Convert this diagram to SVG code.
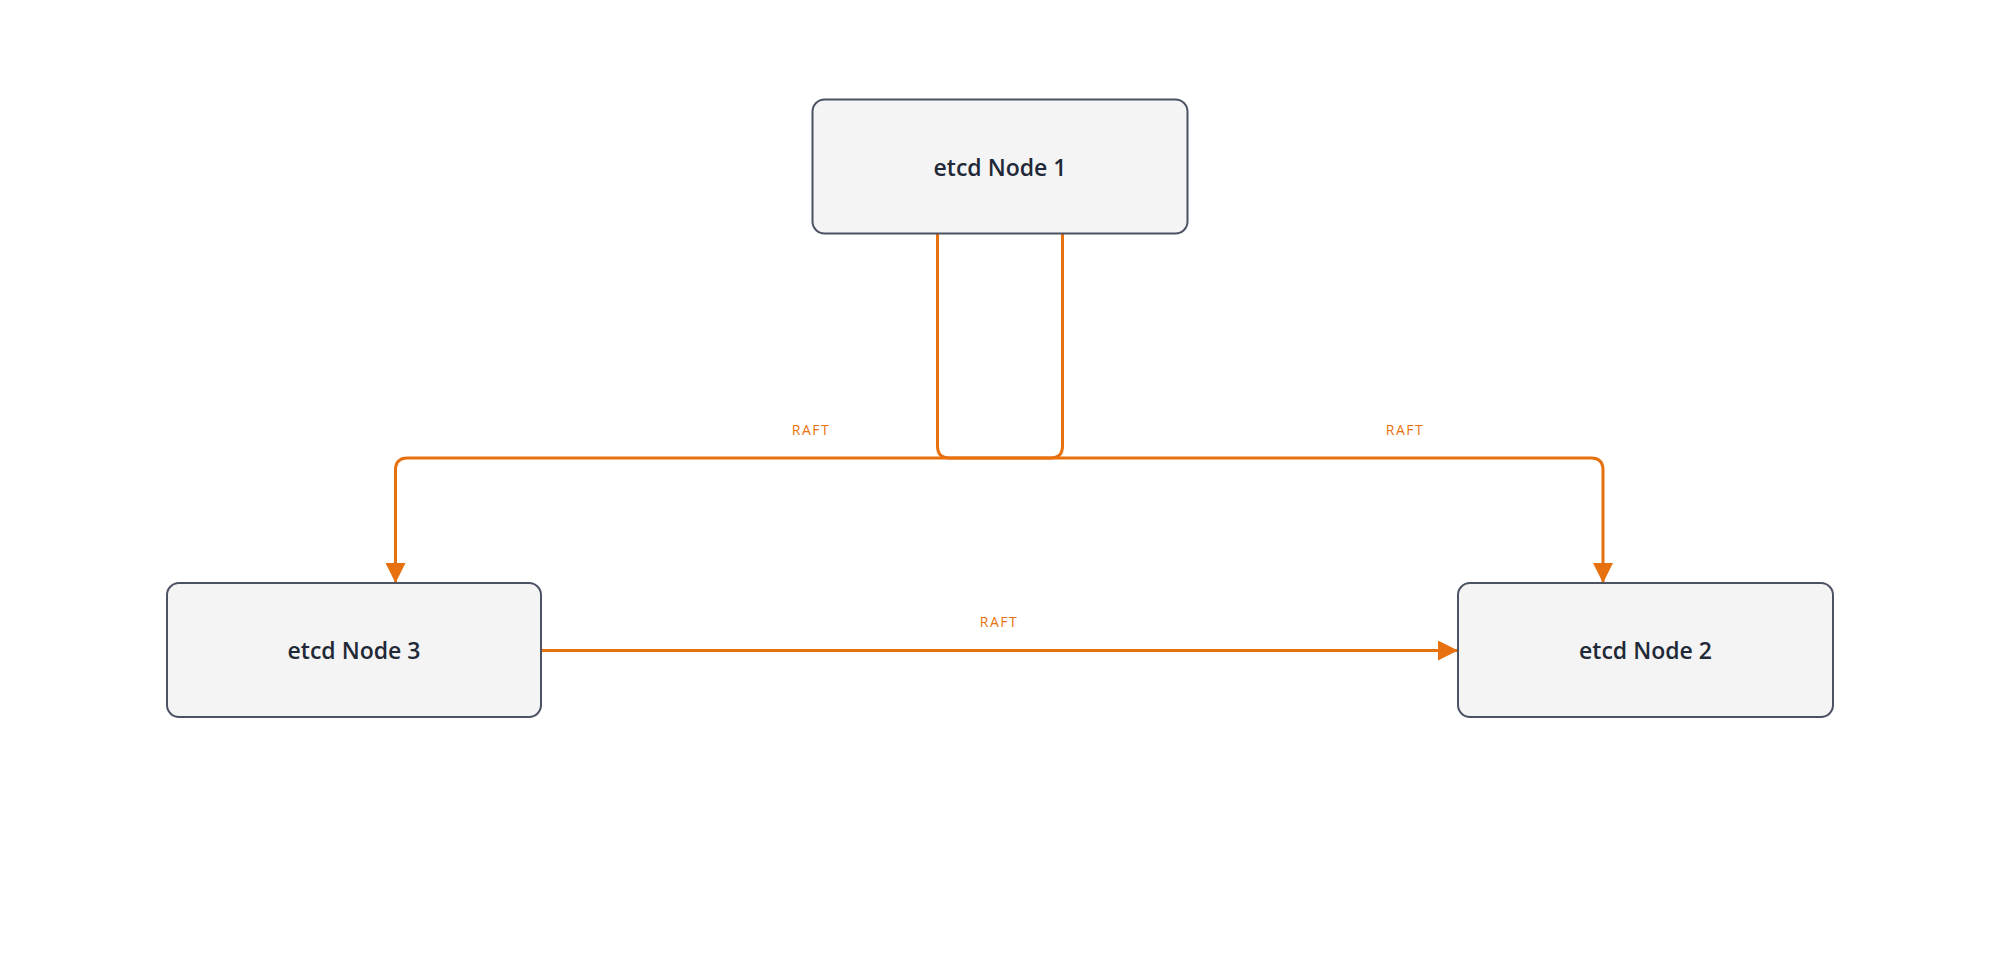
<svg xmlns="http://www.w3.org/2000/svg" width="2000" height="960" viewBox="0 0 2000 960">
<style>
.n{fill:#f4f4f4;stroke:#4b5263;stroke-width:2}
.t{font-family:"Open Sans",sans-serif;font-weight:600;font-size:23px;fill:#1f2937;text-anchor:middle;dominant-baseline:central}
.c{fill:none;stroke:#e8710f;stroke-width:3}
.l{font-family:"Open Sans",sans-serif;font-size:14px;letter-spacing:1.5px;fill:#e8710f;text-anchor:middle;dominant-baseline:central}
</style>
<defs><marker id="a" viewBox="0 0 10 10" refX="10" refY="5" markerWidth="7" markerHeight="7" orient="auto-start-reverse" markerUnits="userSpaceOnUse"><path d="M0,0L10,5L0,10z" fill="#e8710f"/></marker>
<marker id="b" viewBox="0 0 20 20" refX="20" refY="10" markerWidth="20" markerHeight="20" orient="auto" markerUnits="userSpaceOnUse"><path d="M0,0L20,10L0,20z" fill="#e8710f"/></marker></defs>
<g id="connectors">
<path class="c" d="M937.5,233 V446 q0,12 12,12 H1591 q12,0 12,12 V583" marker-end="url(#b)"/>
<path class="c" d="M1062.5,233 V446 q0,12 -12,12 H407.5 q-12,0 -12,12 V583" marker-end="url(#b)"/>
<path class="c" d="M541,650.5 H1458" marker-end="url(#b)"/>
<text class="l" x="811" y="429">RAFT</text>
<text class="l" x="1405" y="429">RAFT</text>
<text class="l" x="999" y="621">RAFT</text>
</g>
<g id="node1"><rect class="n" x="812.5" y="99.5" width="375" height="134" rx="12"/><text class="t" x="1000" y="166.5">etcd Node 1</text></g>
<g id="node3"><rect class="n" x="167" y="583" width="374" height="134" rx="12"/><text class="t" x="354" y="650">etcd Node 3</text></g>
<g id="node2"><rect class="n" x="1458" y="583" width="375" height="134" rx="12"/><text class="t" x="1645.5" y="650">etcd Node 2</text></g>
</svg>
